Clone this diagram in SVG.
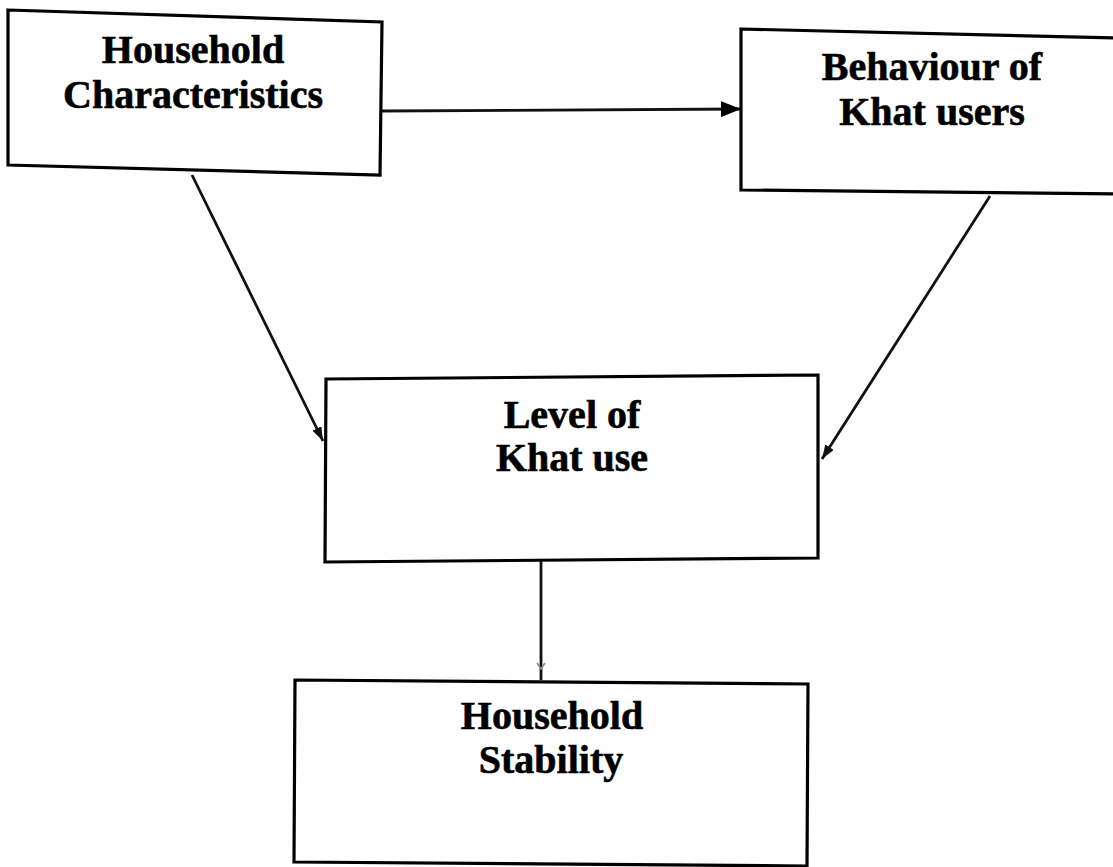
<svg xmlns="http://www.w3.org/2000/svg" width="1113" height="867" viewBox="0 0 1113 867">
  <style>
    .box { fill: #ffffff; stroke: #000000; stroke-width: 3.2; stroke-linejoin: miter; }
    .lbl { font-family: "Liberation Serif", "Times New Roman", serif; font-weight: bold; font-size: 40px; fill: #000000; stroke: #000000; stroke-width: 0.6; text-anchor: middle; }
    .conn { stroke: #111111; stroke-width: 2.8; fill: none; }
  </style>
  <defs>
    <marker id="arrowBig" viewBox="0 0 20 16" refX="20" refY="8" markerWidth="20" markerHeight="16" markerUnits="userSpaceOnUse" orient="auto">
      <path d="M0,0 L20,8 L0,16 Z" fill="#000000"/>
    </marker>
    <marker id="arrowSmall" viewBox="0 0 14 10" refX="14" refY="5" markerWidth="14" markerHeight="10" markerUnits="userSpaceOnUse" orient="auto">
      <path d="M0,0 L14,5 L0,10 Z" fill="#111111"/>
    </marker>
  </defs>
  <rect x="0" y="0" width="1113" height="867" fill="#ffffff"/>

  <g id="connectors">
    <line class="conn" x1="382" y1="111" x2="741" y2="109" marker-end="url(#arrowBig)"/>
    <line class="conn" x1="192" y1="175" x2="323" y2="441" marker-end="url(#arrowSmall)"/>
    <line class="conn" x1="990" y1="196" x2="822" y2="459" marker-end="url(#arrowSmall)"/>
    <line class="conn" x1="541" y1="560" x2="541" y2="680"/>
    <path d="M537,663 L541,669 L545,663" fill="none" stroke="#888888" stroke-width="1.5"/>
  </g>

  <g id="node-household-characteristics">
    <polygon class="box" points="8,10 382,22 380,175 8,165"/>
    <text class="lbl" x="193" y="63">Household</text>
    <text class="lbl" x="193" y="108">Characteristics</text>
  </g>

  <g id="node-behaviour-of-khat-users">
    <polygon class="box" points="741,29 1116,38 1116,194 741,190"/>
    <text class="lbl" x="932" y="80">Behaviour of</text>
    <text class="lbl" x="932" y="125">Khat users</text>
  </g>

  <g id="node-level-of-khat-use">
    <polygon class="box" points="326,379 818,375 818,558 325,562"/>
    <text class="lbl" x="572" y="428">Level of</text>
    <text class="lbl" x="572" y="471">Khat use</text>
  </g>

  <g id="node-household-stability">
    <polygon class="box" points="295,680 808,684 807,866 294,862"/>
    <text class="lbl" x="552" y="729">Household</text>
    <text class="lbl" x="551" y="773">Stability</text>
  </g>
</svg>
